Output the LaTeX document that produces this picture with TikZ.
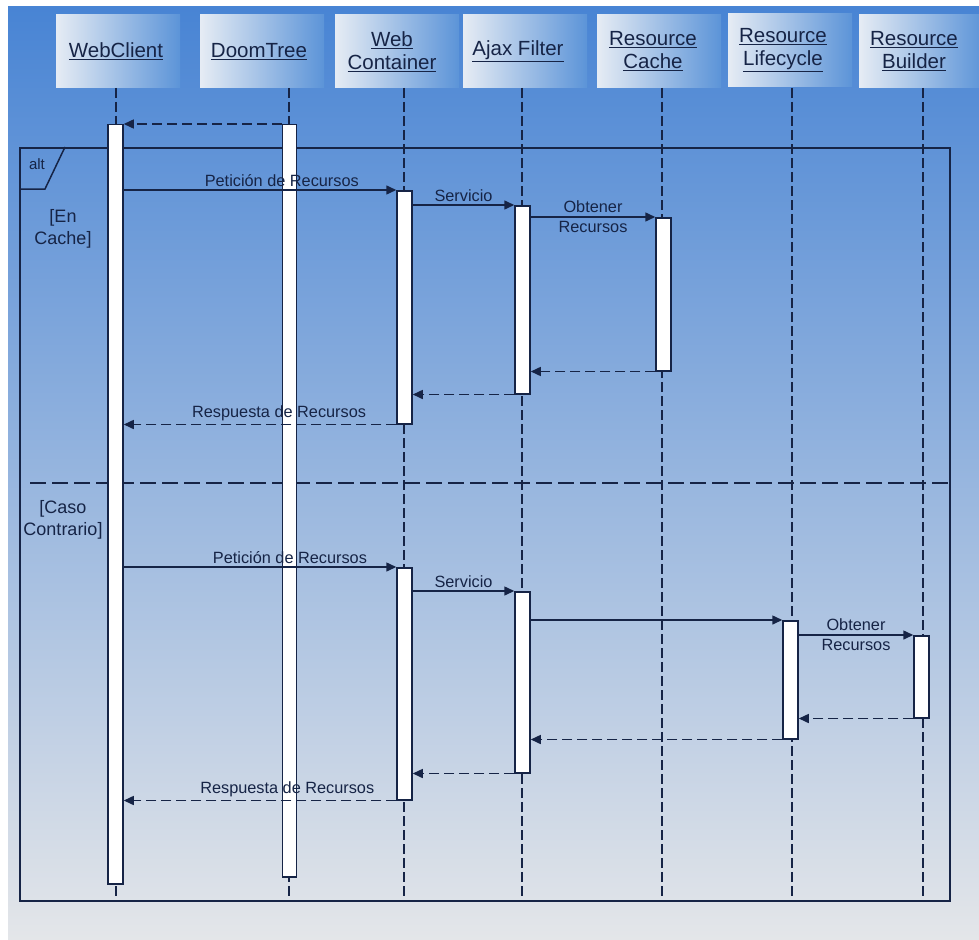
\documentclass[tikz,border=0pt]{standalone}
\usepackage{fontspec}
\setmainfont{Liberation Sans}
\usetikzlibrary{arrows.meta}
\definecolor{bgtop}{RGB}{72,132,212}
\definecolor{bgmid}{RGB}{135,170,220}
\definecolor{bgbot}{RGB}{228,230,233}
\definecolor{ink}{RGB}{22,36,70}
\definecolor{boxlight}{RGB}{230,236,244}
\definecolor{boxblue}{RGB}{92,148,216}

\begin{document}
\begin{tikzpicture}[x=1pt,y=-1pt,
  head/.style={rectangle, inner sep=0, minimum width=124pt, minimum height=73pt,
    left color=boxlight, right color=boxblue},
  title/.style={text=ink, font=\fontsize{20.5}{23}\selectfont, align=center, inner sep=0},
  lifeline/.style={draw=ink, line width=1.5pt, dash pattern=on 10pt off 4pt},
  bar/.style={draw=ink, fill=white, line width=1.5pt, minimum width=15pt, inner sep=0, anchor=north},
  call/.style={draw=ink, line width=1.5pt, -{Triangle[length=10pt,width=9pt]}},
  reply/.style={call, dash pattern=on 10pt off 5pt},
  msg/.style={text=ink, font=\fontsize{16.3}{20}\selectfont, inner sep=3pt, align=center},
  guard/.style={text=ink, font=\fontsize{18}{22}\selectfont, align=center, inner sep=0},
  framebox/.style={draw=ink, line width=1.8pt, inner sep=0}
]
% page and gradient backdrop
\useasboundingbox (0,0) rectangle (979,939);
\fill[white] (0,0) rectangle (979,939);
\shade[top color=bgtop, middle color=bgmid, bottom color=bgbot] (8,7) rectangle (979,939);

% participant heads
\node[head] (hCl) at (118,51.5) {};
\node[head] (hDt) at (262,51.5) {};
\node[head] (hWc) at (397,51.5) {};
\node[head] (hAf) at (525,51.5) {};
\node[head] (hRc) at (659,51.5) {};
\node[head] (hRl) at (790,50.5) {};
\node[head] (hRb) at (921,51.5) {};
\node[title] (tCl) at (116,51.5) {\underline{WebClient}};
\node[title] (tDt) at (259,51.5) {\underline{DoomTree}};
\node[title] (tWc) at (392,51.5) {\underline{Web}\\\underline{Container}};
\node[title] (tAf) at (518,51.5) {\underline{Ajax Filter}};
\node[title] (tRc) at (653,51.5) {\underline{Resource}\\\underline{Cache}};
\node[title] (tRl) at (783,50.5) {\underline{Resource}\\\underline{Lifecycle}};
\node[title] (tRb) at (914,51.5) {\underline{Resource}\\\underline{Builder}};

% combined fragment
\node[framebox, minimum width=930pt, minimum height=753pt, anchor=north west] (frame) at (19,147) {};
\coordinate (tabA) at (19,189);
\coordinate (tabB) at (45,189);
\coordinate (tabC) at (65,147);
\draw[ink, line width=1.5pt] (tabA) -- (tabB) -- (tabC);
\node[text=ink, font=\fontsize{15}{18}\selectfont, inner sep=0] (alt) at (37,164) {alt};
\coordinate (sepL) at (30,483);
\draw[ink, line width=1.5pt, dash pattern=on 16pt off 6pt] (sepL) -- (sepL -| frame.east);
\node[guard] (g1) at (63,229) {[En\\Cache]};
\node[guard] (g2) at (63,520) {[Caso\\Contrario]};

% lifelines
\coordinate (lCl) at (116,88);
\coordinate (lDt) at (289,88);
\coordinate (lWc) at (404,88);
\coordinate (lAf) at (522,88);
\coordinate (lRc) at (662,88);
\coordinate (lRl) at (792,88);
\coordinate (lRb) at (923,88);
\foreach \l in {lCl,lDt,lWc,lAf,lRc,lRl,lRb}
  \draw[lifeline] (\l) -- (\l |- frame.south);

% activation bars
\node[bar, minimum height=759pt] (clB) at (115.5,124) {};
\node[bar, minimum height=752pt, minimum width=14pt] (dtB) at (289.5,124) {};
\node[bar, minimum height=233pt] (wc1) at (404.5,190) {};
\node[bar, minimum height=188pt] (af1) at (522.5,205) {};
\node[bar, minimum height=153pt] (rc1) at (663.5,217) {};
\node[bar, minimum height=232pt] (wc2) at (404.5,567) {};
\node[bar, minimum height=181pt] (af2) at (522.5,591) {};
\node[bar, minimum height=118pt] (rl2) at (790.5,620) {};
\node[bar, minimum height=82pt] (rb2) at (921.5,635) {};

% messages
\draw[reply] (dtB.north west) -- (clB.north east);

% [En Cache]
\draw[call] (clB.east |- wc1.north) -- node[msg, above, pos=0.58] (m1) {Petición de Recursos} (wc1.north west);
\draw[call] (wc1.east |- af1.north) -- node[msg, above] (m2) {Servicio} (af1.north west);
\draw[call] (af1.east |- rc1.north) -- node[msg] (m3) {Obtener\\Recursos} (rc1.north west);
\draw[reply] (rc1.south west) -- (af1.east |- rc1.south);
\draw[reply] (af1.south west) -- (wc1.east |- af1.south);
\draw[reply] (wc1.south west) -- node[msg, above, pos=0.43] (m4) {Respuesta de Recursos} (clB.east |- wc1.south);

% [Caso Contrario]
\draw[call] (clB.east |- wc2.north) -- node[msg, above, pos=0.61] (m5) {Petición de Recursos} (wc2.north west);
\draw[call] (wc2.east |- af2.north) -- node[msg, above] (m6) {Servicio} (af2.north west);
\draw[call] (af2.east |- rl2.north) -- (rl2.north west);
\draw[call] (rl2.east |- rb2.north) -- node[msg] (m7) {Obtener\\Recursos} (rb2.north west);
\draw[reply] (rb2.south west) -- (rl2.east |- rb2.south);
\draw[reply] (rl2.south west) -- (af2.east |- rl2.south);
\draw[reply] (af2.south west) -- (wc2.east |- af2.south);
\draw[reply] (wc2.south west) -- node[msg, above, pos=0.40] (m8) {Respuesta de Recursos} (clB.east |- wc2.south);
\end{tikzpicture}
\end{document}
